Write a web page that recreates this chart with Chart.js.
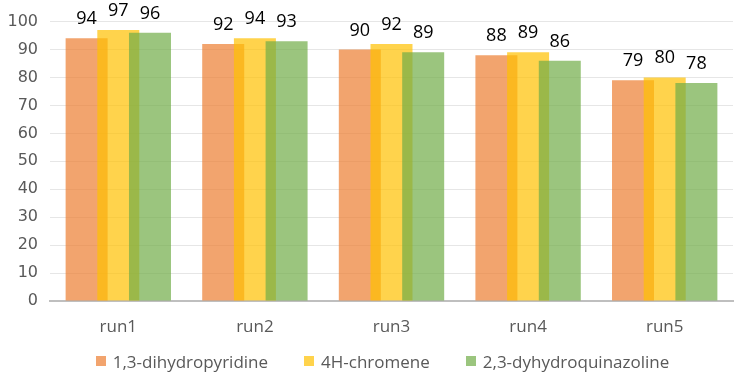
<!DOCTYPE html>
<html>
<head>
<meta charset="utf-8">
<script src="https://cdn.jsdelivr.net/npm/chart.js@4"></script>
<style>
  html, body { margin: 0; padding: 0; background: #fff; }
  #wrap { position: relative; width: 749px; height: 383px; }
  #legend {
    position: absolute; left: 8px; top: 351px; width: 749px; height: 20px;
    display: flex; justify-content: center; align-items: center;
    font-family: 'Open Sans', sans-serif; font-size: 17px; color: #595959;
  }
  #legend .item { display: flex; align-items: center; margin: 0 18px; }
  #legend .box { width: 10px; height: 10px; margin-right: 7px; }
</style>
</head>
<body>
<div id="wrap">
  <canvas id="chart" width="749" height="383"></canvas>
  <div id="legend"></div>
</div>
<script>
const categories = ['run1', 'run2', 'run3', 'run4', 'run5'];
const seriesNames = ['1,3-dihydropyridine', '4H-chromene', '2,3-dyhydroquinazoline'];
const dihydropyridine = [94, 92, 90, 88, 79];
const chromene = [97, 94, 92, 89, 80];
const dyhydroquinazoline = [96, 93, 89, 86, 78];
const colors = ['rgba(237,125,49,0.7)', 'rgba(255,192,0,0.7)', 'rgba(112,173,71,0.7)'];

// draw series in index order so later series sit on top of earlier ones
const drawInOrder = {
  id: 'drawInOrder',
  beforeDatasetsDraw(chart) {
    const area = chart.chartArea;
    const ctx = chart.ctx;
    ctx.save();
    ctx.beginPath();
    ctx.rect(area.left, area.top - 20, area.right - area.left, area.bottom - area.top + 20);
    ctx.clip();
    chart.data.datasets.forEach((ds, i) => {
      chart.getDatasetMeta(i).controller.draw();
    });
    ctx.restore();
    return false;
  }
};

const valueLabels = {
  id: 'valueLabels',
  afterDraw(chart) {
    const ctx = chart.ctx;
    ctx.save();
    ctx.font = "18px 'Open Sans', sans-serif";
    ctx.fillStyle = '#000';
    ctx.textAlign = 'center';
    ctx.textBaseline = 'alphabetic';
    chart.data.datasets.forEach((ds, i) => {
      chart.getDatasetMeta(i).data.forEach((bar, j) => {
        ctx.fillText(ds.data[j], bar.x, bar.y - 14);
      });
    });
    ctx.restore();
  }
};

const seriesData = [dihydropyridine, chromene, dyhydroquinazoline];

new Chart(document.getElementById('chart'), {
  type: 'bar',
  data: {
    labels: categories,
    datasets: seriesNames.map((name, i) => ({
      label: name,
      data: seriesData[i],
      backgroundColor: colors[i],
      borderWidth: 0,
      categoryPercentage: 0.696,
      barPercentage: 1.325
    }))
  },
  options: {
    responsive: false,
    animation: false,
    layout: { padding: { top: 19, right: 16, bottom: 42, left: 0 } },
    plugins: {
      legend: { display: false },
      tooltip: { enabled: false }
    },
    scales: {
      y: {
        min: 0,
        max: 100,
        afterFit: scale => { scale.width = 50; },
        ticks: {
          stepSize: 10,
          padding: 12,
          color: '#595959',
          font: { family: "'DejaVu Sans', sans-serif", size: 16 }
        },
        grid: { color: '#E6E6E6', drawTicks: false },
        border: { display: false }
      },
      x: {
        afterFit: scale => { scale.height = 40; },
        ticks: {
          padding: 16,
          color: '#595959',
          font: { family: "'Open Sans', sans-serif", size: 17 }
        },
        grid: { display: false, drawTicks: false },
        border: { color: '#BFBFBF', width: 2 }
      }
    }
  },
  plugins: [drawInOrder, valueLabels]
});

const legend = document.getElementById('legend');
seriesNames.forEach((name, i) => {
  const item = document.createElement('div');
  item.className = 'item';
  item.innerHTML = '<span class="box" style="background:' + colors[i] + '"></span><span>' + name + '</span>';
  legend.appendChild(item);
});
</script>
</body>
</html>
